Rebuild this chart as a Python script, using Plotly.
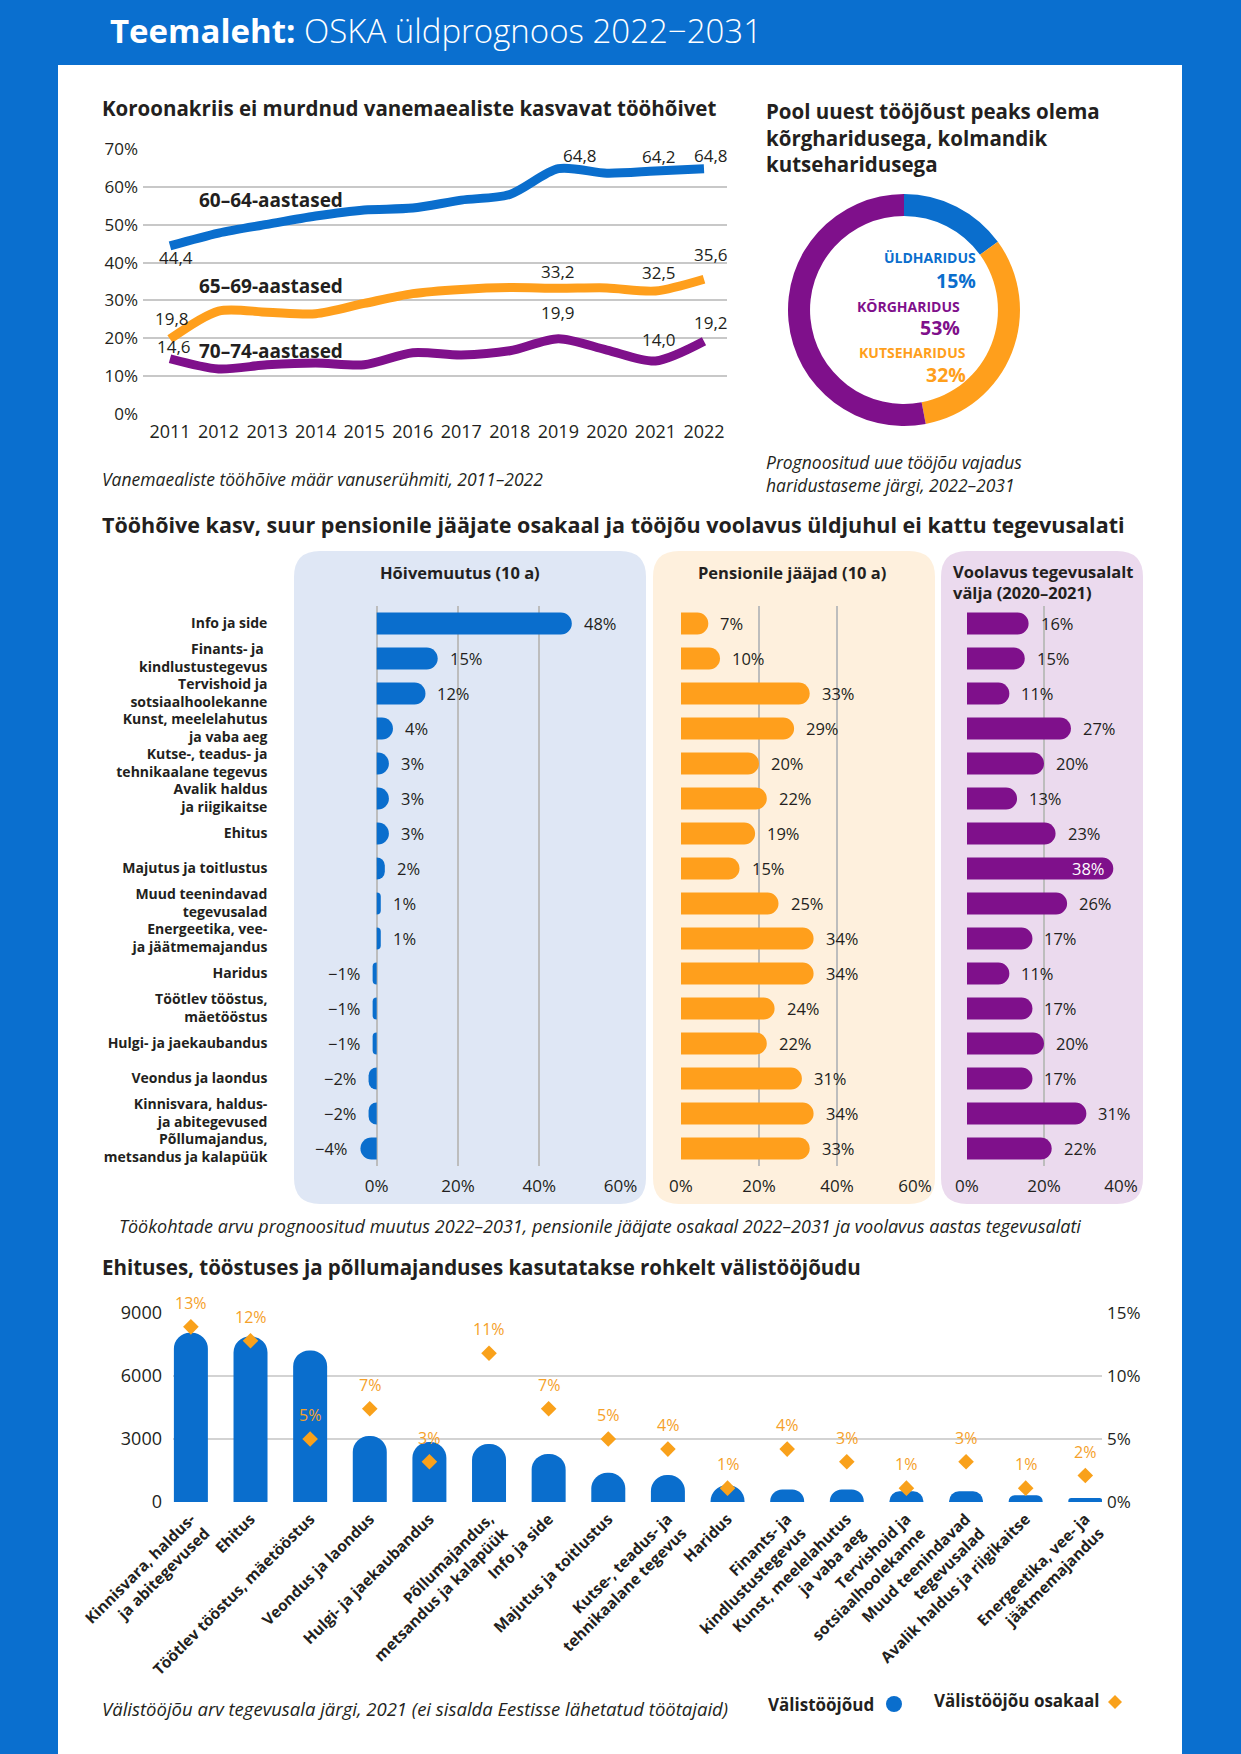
import plotly.graph_objects as go

W, H = 1241, 1754
BG_BLUE = "#0A6FCF"
BLUE = "#0A6ECD"
ORANGE = "#FF9F1C"
ORANGE_TXT = "#F5A12A"
PURPLE = "#7F108B"
TXT = "#231F20"
GRID = "#C8C8C8"
FONT = "Open Sans"

# ---------------- data ----------------
years = list(range(2011, 2023))
emp_60_64 = [44.4, 47.8, 50.1, 52.3, 53.9, 54.4, 56.5, 58.0, 64.8, 63.6, 64.2, 64.8]
emp_65_69 = [19.8, 27.2, 26.9, 26.5, 29.2, 31.8, 32.9, 33.4, 33.2, 33.3, 32.5, 35.6]
emp_70_74 = [14.6, 11.9, 13.0, 13.5, 13.0, 16.2, 15.6, 16.7, 19.9, 16.9, 14.0, 19.2]
age_groups = ["60–64-aastased", "65–69-aastased", "70–74-aastased"]

edu_labels = ["ÜLDHARIDUS", "KUTSEHARIDUS", "KÕRGHARIDUS"]
edu_values = [15, 32, 53]

sectors = [
    "Info ja side", "Finants- ja kindlustustegevus", "Tervishoid ja sotsiaalhoolekanne",
    "Kunst, meelelahutus ja vaba aeg", "Kutse-, teadus- ja tehnikaalane tegevus",
    "Avalik haldus ja riigikaitse", "Ehitus", "Majutus ja toitlustus",
    "Muud teenindavad tegevusalad", "Energeetika, vee- ja jäätmemajandus", "Haridus",
    "Töötlev tööstus, mäetööstus", "Hulgi- ja jaekaubandus", "Veondus ja laondus",
    "Kinnisvara, haldus- ja abitegevused", "Põllumajandus, metsandus ja kalapüük",
]
sector_ticks = [
    "Info ja side", "Finants- ja <br>kindlustustegevus", "Tervishoid ja<br>sotsiaalhoolekanne",
    "Kunst, meelelahutus<br>ja vaba aeg", "Kutse-, teadus- ja<br>tehnikaalane tegevus",
    "Avalik haldus<br>ja riigikaitse", "Ehitus", "Majutus ja toitlustus",
    "Muud teenindavad<br>tegevusalad", "Energeetika, vee-<br>ja jäätmemajandus", "Haridus",
    "Töötlev tööstus,<br>mäetööstus", "Hulgi- ja jaekaubandus", "Veondus ja laondus",
    "Kinnisvara, haldus-<br>ja abitegevused", "Põllumajandus,<br>metsandus ja kalapüük",
]
employment_change = [48, 15, 12, 4, 3, 3, 3, 2, 1, 1, -1, -1, -1, -2, -2, -4]
retiring = [7, 10, 33, 29, 20, 22, 19, 15, 25, 34, 34, 24, 22, 31, 34, 33]
turnover = [16, 15, 11, 27, 20, 13, 23, 38, 26, 17, 11, 17, 20, 17, 31, 22]
panel_titles = ["Hõivemuutus (10 a)", "Pensionile jääjad (10 a)", "Voolavus tegevusalalt<br>välja (2020–2021)"]

foreign_sectors = [
    "Kinnisvara, haldus-<br>ja abitegevused", "Ehitus", "Töötlev tööstus, mäetööstus",
    "Veondus ja laondus", "Hulgi- ja jaekaubandus", "Põllumajandus,<br>metsandus ja kalapüük",
    "Info ja side", "Majutus ja toitlustus", "Kutse-, teadus- ja<br>tehnikaalane tegevus",
    "Haridus", "Finants- ja<br>kindlustustegevus", "Kunst, meelelahutus<br>ja vaba aeg",
    "Tervishoid ja<br>sotsiaalhoolekanne", "Muud teenindavad<br>tegevusalad",
    "Avalik haldus ja riigikaitse", "Energeetika, vee- ja<br>jäätmemajandus",
]
foreign_workers = [8060, 7880, 7220, 3140, 2860, 2760, 2290, 1390, 1280, 800, 590, 590, 510, 510, 320, 190]
foreign_share = [13.9, 12.8, 5.0, 7.4, 3.2, 11.8, 7.4, 5.0, 4.2, 1.1, 4.2, 3.2, 1.1, 3.2, 1.1, 2.1]
foreign_share_labels = ["13%", "12%", "5%", "7%", "3%", "11%", "7%", "5%", "4%", "1%", "4%", "3%", "1%", "3%", "1%", "2%"]


# ---------------- helpers ----------------
def X(px):
    return px / W


def Y(py):
    return 1 - py / H


def T(text, x, y, size=15, color=TXT, weight=None, xanchor="left", yanchor="middle",
      xref="paper", yref="paper", xshift=0, yshift=0, align="left"):
    if xref == "paper":
        x = X(x)
    if yref == "paper":
        y = Y(y)
    font = dict(family=FONT, size=size, color=color)
    if weight:
        font["weight"] = weight
    return dict(text=text, x=x, y=y, xref=xref, yref=yref, xanchor=xanchor, yanchor=yanchor,
                showarrow=False, font=font, xshift=xshift, yshift=yshift, align=align)


def rrect(x0, y0, x1, y1, r):
    p = [
        f"M {X(x0 + r)},{Y(y0)}", f"L {X(x1 - r)},{Y(y0)}", f"Q {X(x1)},{Y(y0)} {X(x1)},{Y(y0 + r)}",
        f"L {X(x1)},{Y(y1 - r)}", f"Q {X(x1)},{Y(y1)} {X(x1 - r)},{Y(y1)}",
        f"L {X(x0 + r)},{Y(y1)}", f"Q {X(x0)},{Y(y1)} {X(x0)},{Y(y1 - r)}",
        f"L {X(x0)},{Y(y0 + r)}", f"Q {X(x0)},{Y(y0)} {X(x0 + r)},{Y(y0)}", "Z",
    ]
    return " ".join(p)


def pct(v):
    return f"{v}%".replace("-", "−")


def dec(v):
    return f"{v:.1f}".replace(".", ",")


fig = go.Figure()
ann = []
shapes = []

# background white sheet
shapes.append(dict(type="rect", xref="paper", yref="paper", x0=X(58), x1=X(1182), y0=Y(1754), y1=Y(65),
                   fillcolor="white", line=dict(width=0), layer="below"))

# header
ann.append(T("<b>Teemaleht:</b> OSKA üldprognoos 2022−2031", 108, 31, size=33, color="white", weight=300))

# ---------------- line chart ----------------
line_series = [emp_60_64, emp_65_69, emp_70_74]
line_colors = [BLUE, ORANGE, PURPLE]
for vals, col, name in zip(line_series, line_colors, age_groups):
    fig.add_trace(go.Scatter(x=years, y=vals, mode="lines", name=name, xaxis="x", yaxis="y",
                             line=dict(color=col, width=9, shape="spline", smoothing=0.8),
                             cliponaxis=False, showlegend=False, hoverinfo="skip"))

ann.append(T("<b>Koroonakriis ei murdnud vanemaealiste kasvavat tööhõivet</b>", 100, 108, size=20.5))
name_pos = [(2011.55, 56.6), (2011.55, 33.8), (2011.55, 16.7)]
for (nx, ny), name in zip(name_pos, age_groups):
    ann.append(T(f"<b>{name}</b>", nx, ny, size=19, xref="x", yref="y"))

label_idx = [0, 8, 10, 11]
label_shift = [
    {0: (6, -12), 8: (22, 13), 10: (4, 14), 11: (7, 13)},
    {0: (2, 21), 8: (0, 17), 10: (4, 18), 11: (7, 25)},
    {0: (4, 12), 8: (0, 26), 10: (4, 21), 11: (7, 19)},
]
for vals, shifts in zip(line_series, label_shift):
    for i in label_idx:
        dx, dy = shifts[i]
        ann.append(T(dec(vals[i]), years[i], vals[i], size=17, xref="x", yref="y",
                     xanchor="center", xshift=dx, yshift=dy))

ann.append(T("<i>Vanemaealiste tööhõive määr vanuserühmiti, 2011–2022</i>", 100, 479, size=17.5))

# ---------------- donut ----------------
fig.add_trace(go.Pie(values=edu_values, labels=edu_labels, hole=0.81, sort=False, direction="clockwise",
                     rotation=0, marker=dict(colors=[BLUE, ORANGE, PURPLE], line=dict(width=0)),
                     textinfo="none", hoverinfo="skip", showlegend=False,
                     domain=dict(x=[X(788), X(1020)], y=[Y(426), Y(194)])))
ann.append(T("<b>Pool uuest tööjõust peaks olema<br>kõrgharidusega, kolmandik<br>kutseharidusega</b>",
             764, 108, size=20.5, yanchor="top", yshift=13))
edu_text_pos = {"ÜLDHARIDUS": (978, 258, BLUE), "KÕRGHARIDUS": (962, 306, PURPLE), "KUTSEHARIDUS": (968, 352, ORANGE)}
for lab, v in zip(edu_labels, edu_values):
    px_, py_, col = edu_text_pos[lab]
    ann.append(T(f"<b>{lab}</b>", px_, py_, size=14, color=col, xanchor="right"))
    ann.append(T(f"<b>{v}%</b>", px_, py_ + 22, size=19.5, color=col, xanchor="right"))
ann.append(T("<i>Prognoositud uue tööjõu vajadus<br>haridustaseme järgi, 2022–2031</i>", 764, 473, size=17.5))

# ---------------- three panels ----------------
ann.append(T("<b>Tööhõive kasv, suur pensionile jääjate osakaal ja tööjõu voolavus üldjuhul ei kattu tegevusalati</b>",
             100, 525, size=21.5))
shapes.append(dict(type="path", xref="paper", yref="paper", path=rrect(294, 551, 646, 1204, 26),
                   fillcolor="#DFE7F5", line=dict(width=0), layer="below"))
shapes.append(dict(type="path", xref="paper", yref="paper", path=rrect(653, 551, 935, 1204, 26),
                   fillcolor="#FEF0DD", line=dict(width=0), layer="below"))
shapes.append(dict(type="path", xref="paper", yref="paper", path=rrect(941, 551, 1143, 1204, 26),
                   fillcolor="#EBDAEE", line=dict(width=0), layer="below"))

panel_data = [employment_change, retiring, turnover]
panel_colors = [BLUE, ORANGE, PURPLE]
panel_max = [60, 60, 40]
for k, (vals, col, vmax) in enumerate(zip(panel_data, panel_colors, panel_max)):
    xa = f"x{k + 2}"
    ya = f"y{k + 2}"
    fig.add_trace(go.Bar(x=vals, y=sectors, orientation="h", xaxis=xa, yaxis=ya, width=0.63,
                         marker=dict(color=col, cornerradius="50%", line=dict(width=0)),
                         showlegend=False, hoverinfo="skip", cliponaxis=False))
    for s, v in zip(sectors, vals):
        if v > 0.85 * vmax:
            ann.append(T(pct(v), v, s, size=16.5, color="white", xref=xa, yref=ya,
                         xanchor="right", xshift=-6))
        elif v >= 0:
            ann.append(T(pct(v), v, s, size=16.5, xref=xa, yref=ya, xanchor="left", xshift=10))
        else:
            ann.append(T(pct(v), v, s, size=16.5, xref=xa, yref=ya, xanchor="right", xshift=-10))

ann.append(T(f"<b>{panel_titles[0]}</b>", 460, 572, size=16.5, xanchor="center"))
ann.append(T(f"<b>{panel_titles[1]}</b>", 792, 572, size=16.5, xanchor="center"))
ann.append(T(f"<b>{panel_titles[2]}</b>", 951, 582, size=16.5, xanchor="left"))

ann.append(T("<i>Töökohtade arvu prognoositud muutus 2022–2031, pensionile jääjate osakaal 2022–2031 ja voolavus aastas tegevusalati</i>",
             600, 1226, size=18, xanchor="center"))

# ---------------- foreign workforce chart ----------------
ann.append(T("<b>Ehituses, tööstuses ja põllumajanduses kasutatakse rohkelt välistööjõudu</b>", 100, 1267, size=20.5))
fig.add_trace(go.Bar(x=foreign_sectors, y=foreign_workers, xaxis="x5", yaxis="y5", width=0.57,
                     marker=dict(color=BLUE, cornerradius="50%", line=dict(width=0)),
                     showlegend=False, hoverinfo="skip"))
fig.add_trace(go.Scatter(x=foreign_sectors, y=foreign_share, xaxis="x5", yaxis="y6", mode="markers",
                         marker=dict(symbol="diamond", size=12, color="#F9A11B", line=dict(width=0)),
                         showlegend=False, hoverinfo="skip", cliponaxis=False))
for s, v, lab in zip(foreign_sectors, foreign_share, foreign_share_labels):
    ann.append(T(lab, s, v, size=16, color=ORANGE_TXT, xref="x5", yref="y6", xanchor="center", yshift=24))

ann.append(T("<i>Välistööjõu arv tegevusala järgi, 2021 (ei sisalda Eestisse lähetatud töötajaid)</i>", 100, 1708, size=18.5))
ann.append(T("<b>Välistööjõud</b>", 876, 1704, size=17, xanchor="right"))
shapes.append(dict(type="circle", xref="paper", yref="paper", x0=X(886), x1=X(902), y0=Y(1712), y1=Y(1696),
                   fillcolor=BLUE, line=dict(width=0)))
ann.append(T("<b>Välistööjõu osakaal</b>", 1101, 1700, size=17, xanchor="right"))
cx, cy, d = 1115, 1702, 7
shapes.append(dict(type="path", xref="paper", yref="paper",
                   path=f"M {X(cx)},{Y(cy - d)} L {X(cx + d)},{Y(cy)} L {X(cx)},{Y(cy + d)} L {X(cx - d)},{Y(cy)} Z",
                   fillcolor="#F9A11B", line=dict(width=0)))

# ---------------- axes ----------------
tickfont = dict(family=FONT, size=17, color=TXT)
cat_range = [15.5, -0.5]
NA = dict(automargin=False, fixedrange=True)
layout_axes = dict(
    xaxis=dict(domain=[X(143), X(727)], range=[2010.444, 2022.474], tickvals=years, showgrid=False,
               zeroline=False, showline=False, ticks="", tickfont=dict(family=FONT, size=18, color=TXT, weight=500),
               ticklabelstandoff=5, anchor="y", **NA),
    yaxis=dict(domain=[Y(414), Y(149)], range=[0, 70], tickvals=list(range(0, 71, 10)),
               ticktext=[f"{v}%" for v in range(0, 71, 10)], gridcolor=GRID, gridwidth=2,
               zeroline=False, showline=False, ticks="", tickfont=tickfont, anchor="x", ticklabelstandoff=4, **NA),
    xaxis2=dict(domain=[X(295.4), X(620.6)], range=[-20, 60], tickvals=[-20, 0, 20, 40, 60],
                ticktext=["", "0%", "20%", "40%", "60%"], gridcolor="#BDBDBD", gridwidth=2, zeroline=False,
                showline=False, ticks="", tickfont=tickfont, anchor="y2", ticklabelstandoff=8, **NA),
    yaxis2=dict(domain=[Y(1166), Y(606)], type="category", categoryorder="array", categoryarray=sectors,
                range=cat_range, tickvals=sectors, ticktext=sector_ticks, showgrid=False, zeroline=False,
                ticks="", tickfont=dict(family=FONT, size=14, color=TXT, weight=700), anchor="x2",
                ticklabelstandoff=27, **NA),
    xaxis3=dict(domain=[X(681), X(915)], range=[0, 60], tickvals=[0, 20, 40, 60],
                ticktext=["0%", "20%", "40%", "60%"], gridcolor="#BDBDBD", gridwidth=2, zeroline=False,
                showline=False, ticks="", tickfont=tickfont, anchor="y3", ticklabelstandoff=8, **NA),
    yaxis3=dict(domain=[Y(1166), Y(606)], type="category", categoryorder="array", categoryarray=sectors,
                range=cat_range, showticklabels=False, showgrid=False, zeroline=False, ticks="", anchor="x3", **NA),
    xaxis4=dict(domain=[X(967), X(1121)], range=[0, 40], tickvals=[0, 20, 40],
                ticktext=["0%", "20%", "40%"], gridcolor="#BDBDBD", gridwidth=2, zeroline=False,
                showline=False, ticks="", tickfont=tickfont, anchor="y4", ticklabelstandoff=8, **NA),
    yaxis4=dict(domain=[Y(1166), Y(606)], type="category", categoryorder="array", categoryarray=sectors,
                range=cat_range, showticklabels=False, showgrid=False, zeroline=False, ticks="", anchor="x4", **NA),
    xaxis5=dict(domain=[X(173), X(1102)], type="category", categoryorder="array", categoryarray=foreign_sectors,
                range=[-0.3, 15.28], tickangle=-45, showgrid=False, zeroline=False, showline=False, ticks="",
                tickfont=dict(family=FONT, size=15.5, color=TXT, weight=700), anchor="y5", ticklabelstandoff=4, **NA),
    yaxis5=dict(domain=[Y(1502), Y(1313)], range=[0, 9000], tickvals=[0, 3000, 6000, 9000],
                ticktext=["0", "3000", "6000", "9000"], gridcolor="#D3D3D3", gridwidth=2, zeroline=False,
                showline=False, ticks="", tickfont=dict(family=FONT, size=18, color=TXT), anchor="x5",
                ticklabelstandoff=10, **NA),
    yaxis6=dict(domain=[Y(1502), Y(1313)], range=[0, 15], tickvals=[0, 5, 10, 15],
                ticktext=["0%", "5%", "10%", "15%"], overlaying="y5", side="right", showgrid=False,
                zeroline=False, showline=False, ticks="", tickfont=tickfont, anchor="x5", ticklabelstandoff=4, **NA),
)

fig.update_layout(
    width=W, height=H, margin=dict(l=0, r=0, t=0, b=0, autoexpand=False),
    paper_bgcolor=BG_BLUE, plot_bgcolor="rgba(0,0,0,0)",
    font=dict(family=FONT, color=TXT),
    shapes=shapes, annotations=ann, showlegend=False, bargap=0.3,
    **layout_axes,
)

fig.write_html("out.html", config={"displayModeBar": False},
               post_script="document.body.style.margin='0px';document.body.style.background='#0A6FCF';")
